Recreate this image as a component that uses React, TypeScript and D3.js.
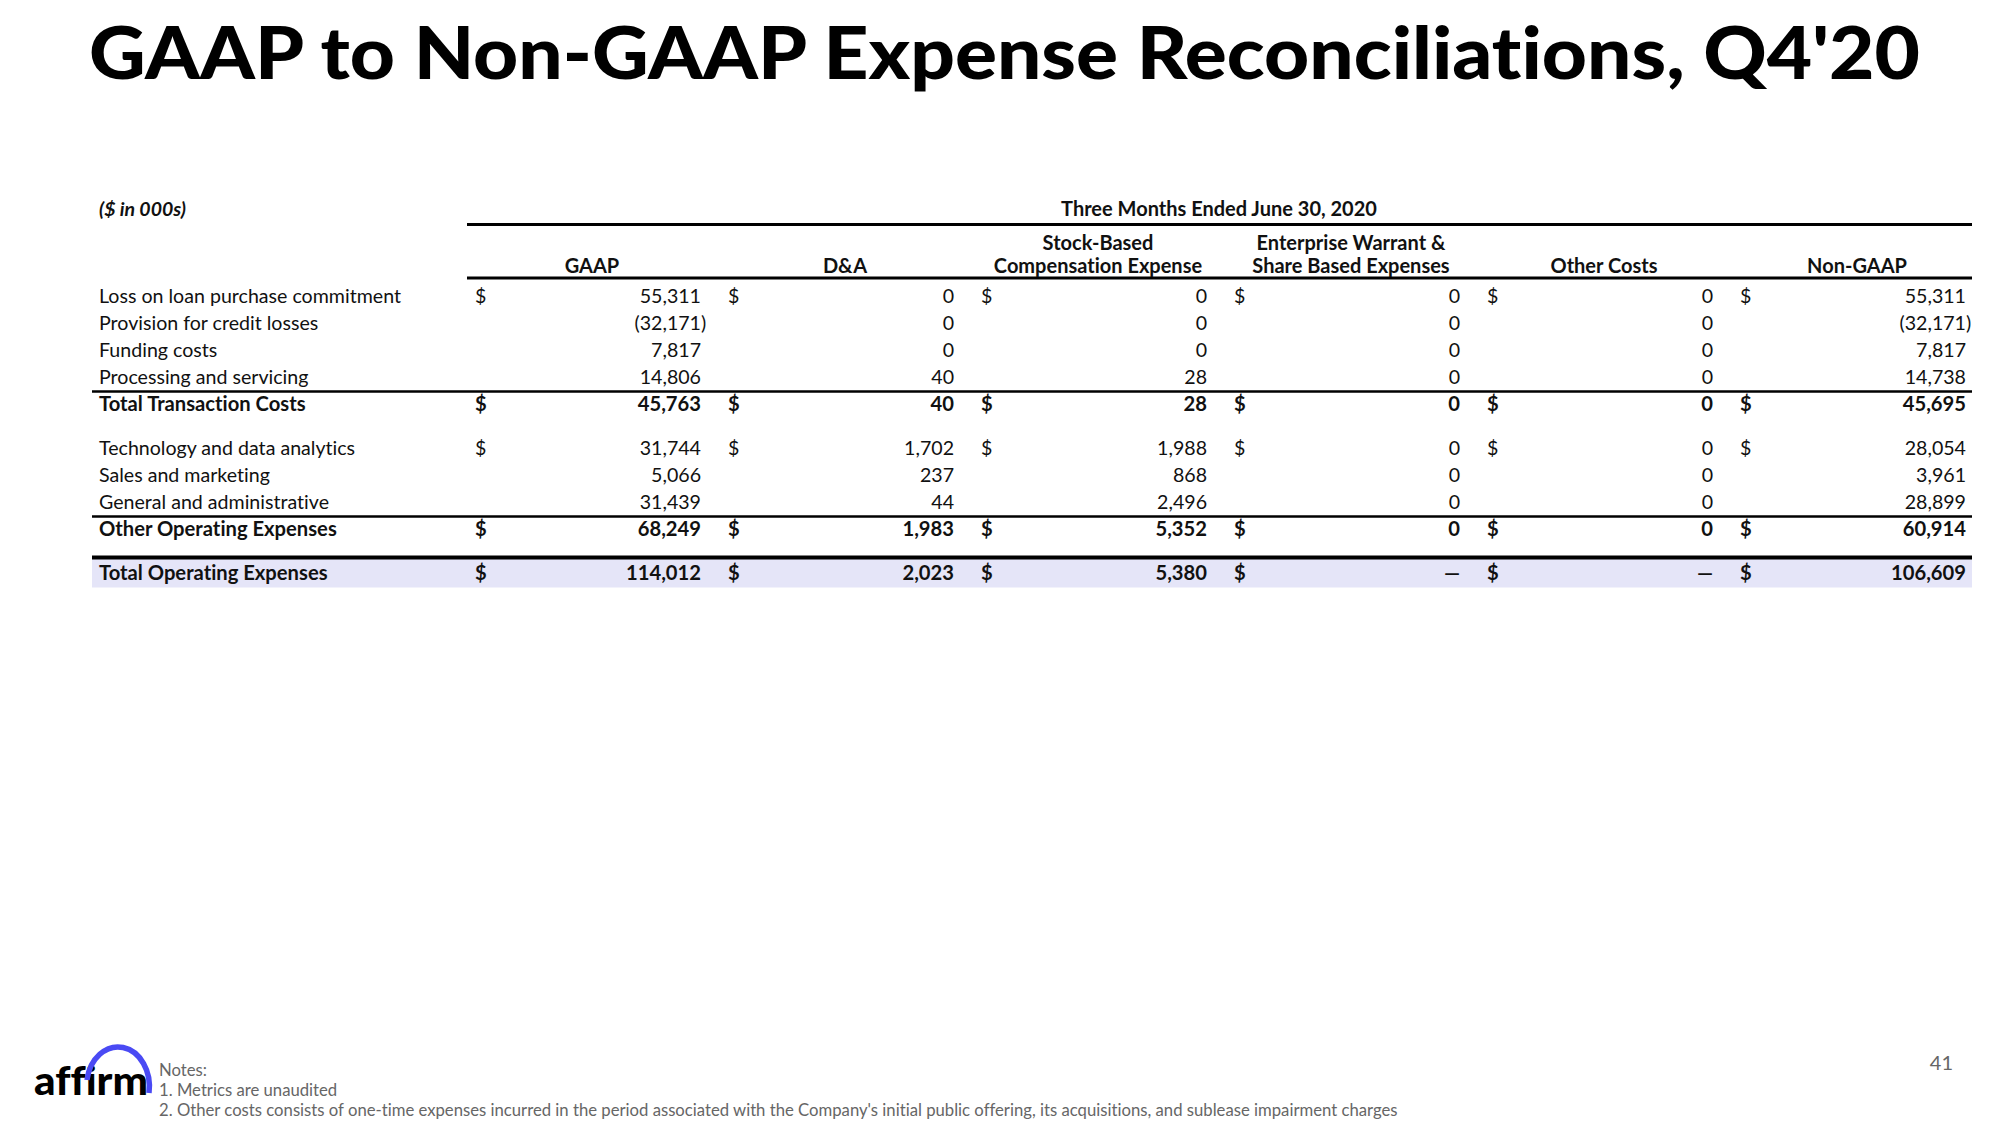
import React, { useEffect, useRef } from 'react';
import * as d3 from 'd3';

const title = "GAAP to Non-GAAP Expense Reconciliations, Q4'20";
const unitLabel = '($ in 000s)';
const periodLabel = 'Three Months Ended June 30, 2020';

const columns = ['GAAP', 'D&A', 'Stock-Based\nCompensation Expense', 'Enterprise Warrant &\nShare Based Expenses', 'Other Costs', 'Non-GAAP'];

const rowLabels = [
  'Loss on loan purchase commitment',
  'Provision for credit losses',
  'Funding costs',
  'Processing and servicing',
  'Total Transaction Costs',
  'Technology and data analytics',
  'Sales and marketing',
  'General and administrative',
  'Other Operating Expenses',
  'Total Operating Expenses',
];

const gaap = [55311, -32171, 7817, 14806, 45763, 31744, 5066, 31439, 68249, 114012];
const da = [0, 0, 0, 40, 40, 1702, 237, 44, 1983, 2023];
const sbc = [0, 0, 0, 28, 28, 1988, 868, 2496, 5352, 5380];
const warrant = [0, 0, 0, 0, 0, 0, 0, 0, 0, null];
const otherCosts = [0, 0, 0, 0, 0, 0, 0, 0, 0, null];
const nonGaap = [55311, -32171, 7817, 14738, 45695, 28054, 3961, 28899, 60914, 106609];

const totalRows = [4, 8, 9];
const dollarRows = [0, 4, 5, 8, 9];
const underlineRows = [3, 7];

const notes = [
  'Notes:',
  '1. Metrics are unaudited',
  "2. Other costs consists of one-time expenses incurred in the period associated with the Company's initial public offering, its acquisitions, and sublease impairment charges",
];

export default function App() {
  const svgRef = useRef(null);

  useEffect(() => {
    const svg = d3.select(svgRef.current);
    svg.selectAll('*').remove();
    const font = 'Lato, "Open Sans", sans-serif';
    const W = 2000;

    svg.append('rect').attr('width', W).attr('height', 1125).attr('fill', '#fff');

    svg.append('text').attr('x', 89).attr('y', 79)
      .attr('font-family', font).attr('font-weight', 900).attr('font-size', 72)
      .attr('textLength', 1831).attr('lengthAdjust', 'spacingAndGlyphs')
      .attr('fill', '#000').text(title);

    const series = [gaap, da, sbc, warrant, otherCosts, nonGaap];
    const x = d3.scaleBand().domain(columns).range([467, 1985]).paddingInner(0);
    const bw = x.bandwidth();
    const dollarX = c => x(c) + 8;
    const rightX = c => x(c) + bw - 19;
    const centerX = c => (dollarX(c) + rightX(c)) / 2 + 4;

    // row positions: even steps with a gap after each total row
    const step = 27, gap = 17;
    const rowY = [];
    let yy = 296;
    rowLabels.forEach((_, i) => {
      rowY.push(yy);
      yy += step + (totalRows.includes(i) ? gap : 0);
    });

    const lineL = 92, tableR = 1972;
    const g = svg.append('g').attr('font-family', font).attr('fill', '#111');

    // highlight band on grand total
    const last = rowLabels.length - 1;
    g.append('rect').attr('x', lineL).attr('y', rowY[last] - 14.5)
      .attr('width', tableR - lineL).attr('height', 29).attr('fill', '#e5e5f8');

    g.append('text').attr('x', 99).attr('y', 209).attr('dy', '0.35em')
      .attr('font-size', 19.5).attr('font-weight', 700).attr('font-style', 'italic').text(unitLabel);
    g.append('text').attr('x', 1219).attr('y', 209).attr('dy', '0.35em').attr('text-anchor', 'middle')
      .attr('font-size', 20).attr('font-weight', 700).text(periodLabel);

    const hline = (x1, x2, y, w) => g.append('line').attr('x1', x1).attr('x2', x2)
      .attr('y1', y).attr('y2', y).attr('stroke', '#000').attr('stroke-width', w);
    hline(467, tableR, 224.5, 3);
    hline(467, tableR, 278, 3);

    columns.forEach(c => {
      const parts = c.split('\n');
      parts.forEach((p, k) => {
        g.append('text').attr('x', centerX(c)).attr('y', 266 - (parts.length - 1 - k) * 23)
          .attr('dy', '0.35em').attr('text-anchor', 'middle')
          .attr('font-size', 20).attr('font-weight', 700).text(p);
      });
    });

    const fmt = d3.format(',');
    rowLabels.forEach((label, i) => {
      const bold = totalRows.includes(i);
      const y = rowY[i];
      const row = g.append('g').attr('font-size', bold ? 20.2 : 19.6).attr('font-weight', bold ? 700 : 400);
      row.append('text').attr('x', 99).attr('y', y).attr('dy', '0.35em').text(label);
      columns.forEach((c, j) => {
        const v = series[j][i];
        if (dollarRows.includes(i)) {
          row.append('text').attr('x', dollarX(c)).attr('y', y).attr('dy', '0.35em').text('$');
        }
        if (v === null) {
          row.append('text').attr('x', rightX(c)).attr('y', y).attr('dy', '0.35em')
            .attr('text-anchor', 'end').text('—');
        } else if (v < 0) {
          row.append('text').attr('x', rightX(c)).attr('y', y).attr('dy', '0.35em')
            .attr('text-anchor', 'end').text('(' + fmt(-v));
          row.append('text').attr('x', rightX(c)).attr('y', y).attr('dy', '0.35em').text(')');
        } else {
          row.append('text').attr('x', rightX(c)).attr('y', y).attr('dy', '0.35em')
            .attr('text-anchor', 'end').text(fmt(v));
        }
      });
    });

    underlineRows.forEach(i => hline(lineL, tableR, (rowY[i] + rowY[i + 1]) / 2 + 1, 2.5));
    hline(lineL, tableR, rowY[last] - 15.5, 4);

    // footer
    svg.append('text').attr('x', 34).attr('y', 1095)
      .attr('font-family', font).attr('font-weight', 900).attr('font-size', 40)
      .attr('textLength', 114).attr('lengthAdjust', 'spacingAndGlyphs')
      .style('font-variant-ligatures', 'none')
      .attr('fill', '#000').text('affirm');
    svg.append('path').attr('d', 'M 87 1080 A 31 39 0 0 1 149 1093')
      .attr('fill', 'none').attr('stroke', '#4a4af4').attr('stroke-width', 5.5);

    notes.forEach((n, i) => {
      svg.append('text').attr('x', 159).attr('y', 1070 + i * 20).attr('dy', '0.35em')
        .attr('font-family', font).attr('font-size', 16.7).attr('fill', '#666').text(n);
    });
    svg.append('text').attr('x', 1953).attr('y', 1063).attr('dy', '0.35em').attr('text-anchor', 'end')
      .attr('font-family', font).attr('font-size', 20).attr('fill', '#666').text('41');
  }, []);

  return (
    <svg ref={svgRef} width={2000} height={1125}
      style={{ position: 'absolute', left: 0, top: 0, display: 'block', fontVariantLigatures: 'none' }} />
  );
}
